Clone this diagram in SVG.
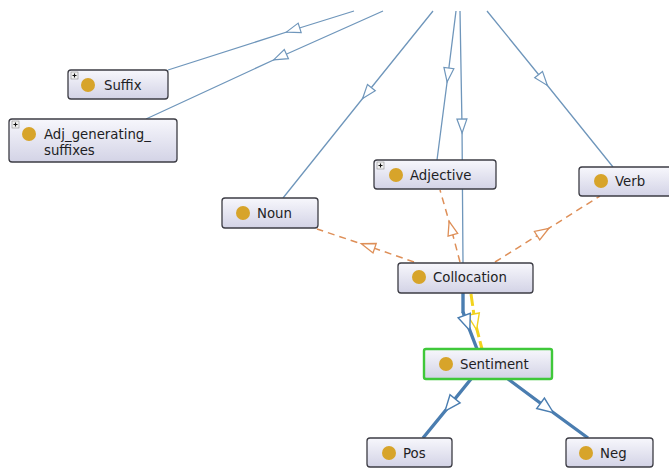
<svg xmlns="http://www.w3.org/2000/svg" width="669" height="468" viewBox="0 0 669 468">
  <style>
    .box { fill: url(#boxFill); stroke: #3c3c44; stroke-width: 1.3; }
    .sel { fill: url(#boxFill); stroke: #3fc83a; stroke-width: 2.4; }
    .dot { fill: #d7a42a; }
    .lbl { font-family: "DejaVu Sans", "Liberation Sans", sans-serif; font-size: 13.3px; fill: #1e1e24; }
    .isa { fill: none; stroke: #6f96bb; stroke-width: 1.3; marker-mid: url(#triThin); }
    .prop { fill: none; stroke: #de8f58; stroke-width: 1.5; stroke-dasharray: 7 5; marker-mid: url(#triOrange); }
    .isaSel { fill: none; stroke: #4a7db0; stroke-width: 3.4; marker-mid: url(#triThick); }
    .stem { fill: none; stroke: #4a7db0; stroke-width: 3.4; }
    .hint { fill: none; stroke: #f2d31e; stroke-width: 3; stroke-dasharray: 12 4; marker-mid: url(#triYellow); }
    .plusBox { fill: #f2f2f2; stroke: #8a8a8a; stroke-width: 0.6; }
    .plus { stroke: #111; stroke-width: 1.1; }
  </style>
  <defs>
    <linearGradient id="boxFill" x1="0" y1="0" x2="0" y2="1">
      <stop offset="0" stop-color="#f7f7fc"/>
      <stop offset="1" stop-color="#d3d3e6"/>
    </linearGradient>
    <marker id="triThin" markerUnits="userSpaceOnUse" orient="auto" overflow="visible" markerWidth="20" markerHeight="20">
      <path d="M7,0 L-7,-5 L-7,5 Z" fill="#fff" stroke="#6f96bb" stroke-width="1.2"/>
    </marker>
    <marker id="triOrange" markerUnits="userSpaceOnUse" orient="auto" overflow="visible" markerWidth="20" markerHeight="20">
      <path d="M7,0 L-7,-5 L-7,5 Z" fill="#fff" stroke="#de8f58" stroke-width="1.3"/>
    </marker>
    <marker id="triThick" markerUnits="userSpaceOnUse" orient="auto" overflow="visible" markerWidth="20" markerHeight="20">
      <path d="M8,0 L-8,-6.5 L-8,6.5 Z" fill="#fff" stroke="#4a7db0" stroke-width="1.4"/>
    </marker>
    <marker id="triYellow" markerUnits="userSpaceOnUse" orient="auto" overflow="visible" markerWidth="20" markerHeight="20">
      <path d="M8,0 L-8,-6 L-8,6 Z" fill="#fff" stroke="#f2d31e" stroke-width="1.4"/>
    </marker>
  </defs>

  <g id="connectors">
    <!-- subclass links from the parent above the view -->
    <path class="isa" d="M354,11 L293,30 L168,70"/>
    <path class="isa" d="M383,11 L280,57 L146,119"/>
    <path class="isa" d="M433,11 L367,93 L283,198"/>
    <path class="isa" d="M456,11 L448,75 L437,160"/>
    <path class="isa" d="M460,11 L462,126 L463,263"/>
    <path class="isa" d="M487,11 L543,80 L613,167"/>
    <!-- object property links from Collocation -->
    <path class="prop" d="M414,262 L368,246 L317,229"/>
    <path class="prop" d="M460,262 L451,228 L440,190"/>
    <path class="prop" d="M495,262 L543,232 L600,196"/>
    <!-- Collocation to Sentiment -->
    <path class="hint" d="M471,294 L475,322 L482,349"/>
    <path class="stem" d="M463,293 L463,313"/>
    <path class="isaSel" d="M463,312 L467,323 L477,349"/>
    <!-- Sentiment to its subclasses -->
    <path class="isaSel" d="M471,379 L450,405 L423,438"/>
    <path class="isaSel" d="M508,379 L547,408 L588,438"/>
  </g>

  <g id="Suffix">
    <rect class="box" x="68" y="70" width="100" height="29" rx="3"/>
    <rect class="plusBox" x="71" y="72" width="7" height="7"/>
    <path class="plus" d="M72.5,75.5 H76.5 M74.5,73.5 V77.5"/>
    <circle class="dot" cx="88" cy="85" r="7"/>
    <text class="lbl" x="104" y="90">Suffix</text>
  </g>

  <g id="Adj_generating_suffixes">
    <rect class="box" x="9" y="119" width="168" height="43" rx="3"/>
    <rect class="plusBox" x="12" y="121" width="7" height="7"/>
    <path class="plus" d="M13.5,124.5 H17.5 M15.5,122.5 V126.5"/>
    <circle class="dot" cx="29" cy="134" r="7"/>
    <text class="lbl" x="44" y="139">Adj_generating_</text>
    <text class="lbl" x="44" y="155">suffixes</text>
  </g>

  <g id="Noun">
    <rect class="box" x="222" y="198" width="96" height="30" rx="3"/>
    <circle class="dot" cx="243" cy="213" r="7"/>
    <text class="lbl" x="257" y="218">Noun</text>
  </g>

  <g id="Adjective">
    <rect class="box" x="374" y="160" width="122" height="29" rx="3"/>
    <rect class="plusBox" x="377" y="162" width="7" height="7"/>
    <path class="plus" d="M378.5,165.5 H382.5 M380.5,163.5 V167.5"/>
    <circle class="dot" cx="396" cy="175" r="7"/>
    <text class="lbl" x="410" y="180">Adjective</text>
  </g>

  <g id="Verb">
    <rect class="box" x="579" y="167" width="100" height="29" rx="3"/>
    <circle class="dot" cx="601" cy="181" r="7"/>
    <text class="lbl" x="615" y="186">Verb</text>
  </g>

  <g id="Collocation">
    <rect class="box" x="398" y="263" width="135" height="30" rx="3"/>
    <circle class="dot" cx="419" cy="277" r="7"/>
    <text class="lbl" x="433" y="282">Collocation</text>
  </g>

  <g id="Sentiment">
    <rect class="sel" x="424" y="349" width="128" height="30" rx="2"/>
    <circle class="dot" cx="446" cy="364" r="7"/>
    <text class="lbl" x="460" y="369">Sentiment</text>
  </g>

  <g id="Pos">
    <rect class="box" x="367" y="438" width="85" height="29" rx="3"/>
    <circle class="dot" cx="389" cy="453" r="7"/>
    <text class="lbl" x="403" y="458">Pos</text>
  </g>

  <g id="Neg">
    <rect class="box" x="566" y="438" width="87" height="29" rx="3"/>
    <circle class="dot" cx="586" cy="453" r="7"/>
    <text class="lbl" x="600" y="458">Neg</text>
  </g>
</svg>
